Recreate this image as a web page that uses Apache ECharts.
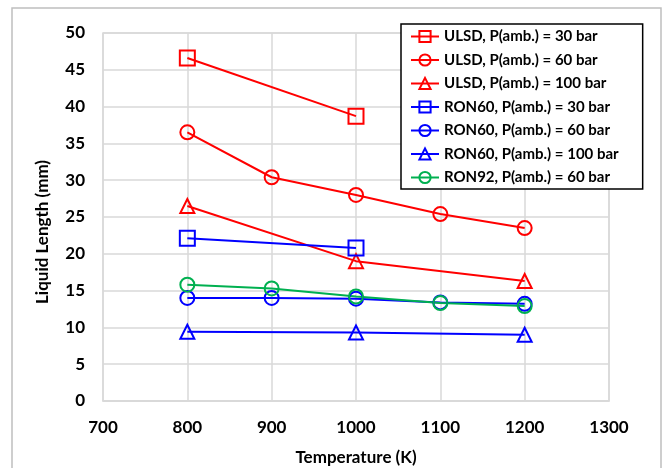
<!DOCTYPE html>
<html><head><meta charset="utf-8">
<script src="https://cdn.jsdelivr.net/npm/echarts@6/dist/echarts.min.js"></script>
<style>html,body{margin:0;padding:0;background:#fff}#c{width:664px;height:468px}</style>
</head><body><div id="c"></div>
<script>
const xTicks = [700, 800, 900, 1000, 1100, 1200, 1300];
const seriesNames = [
  'ULSD, P(amb.) = 30 bar', 'ULSD, P(amb.) = 60 bar', 'ULSD, P(amb.) = 100 bar',
  'RON60, P(amb.) = 30 bar', 'RON60, P(amb.) = 60 bar', 'RON60, P(amb.) = 100 bar',
  'RON92, P(amb.) = 60 bar'
];
const ulsd30 = [[800, 46.6], [1000, 38.7]];
const ulsd60 = [[800, 36.5], [900, 30.4], [1000, 28.0], [1100, 25.4], [1200, 23.5]];
const ulsd100 = [[800, 26.5], [1000, 19.0], [1200, 16.3]];
const ron60_30 = [[800, 22.1], [1000, 20.8]];
const ron60_60 = [[800, 14.0], [900, 14.0], [1000, 13.9], [1100, 13.4], [1200, 13.2]];
const ron60_100 = [[800, 9.4], [1000, 9.3], [1200, 9.0]];
const ron92_60 = [[800, 15.8], [900, 15.3], [1000, 14.2], [1100, 13.3], [1200, 12.9]];

const datasets = [ulsd30, ulsd60, ulsd100, ron60_30, ron60_60, ron60_100, ron92_60];
const colors = ['#ff0000', '#ff0000', '#ff0000', '#0000ff', '#0000ff', '#0000ff', '#00b050'];
const symbols = ['rect', 'circle', 'triangle', 'rect', 'circle', 'triangle', 'circle'];
const sizes = [15, 14, 14, 15, 14, 14, 14];

const FONT = 'Lato';
const chart = echarts.init(document.getElementById('c'), null, {renderer: 'canvas'});
chart.setOption({
  backgroundColor: '#fff',
  animation: false,
  graphic: [{
    type: 'rect', shape: {x: 12, y: 8, width: 649, height: 470},
    style: {fill: 'none', stroke: '#bfbfbf', lineWidth: 1.5}, z: -1
  }],
  grid: {left: 103, right: 55, top: 33, bottom: 67, show: true, borderColor: '#d9d9d9', borderWidth: 1.5,
    containLabel: false, outerBoundsMode: 'none'},
  legend: {
    orient: 'vertical', left: 401, top: 24,
    padding: [5, 24, 4, 9], itemGap: 8.5, itemWidth: 28, itemHeight: 14,
    backgroundColor: '#fff', borderColor: '#000', borderWidth: 1.5,
    textStyle: {fontFamily: FONT, fontWeight: 'bold', fontSize: 15, color: '#000', lineHeight: 15},
    data: seriesNames
  },
  xAxis: {
    type: 'value', min: 700, max: 1300, interval: 100,
    name: 'Temperature (K)', nameLocation: 'middle', nameGap: 48,
    nameTextStyle: {fontFamily: FONT, fontWeight: 'bold', fontSize: 17, color: '#000'},
    axisLine: {show: true, lineStyle: {color: '#d9d9d9', width: 1.5}},
    axisTick: {show: false},
    axisLabel: {fontFamily: FONT, fontWeight: 'bold', fontSize: 17, color: '#000', margin: 18,
      formatter: v => xTicks.includes(v) ? String(v) : ''},
    splitLine: {show: true, lineStyle: {color: '#d9d9d9', width: 1.5}}
  },
  yAxis: {
    type: 'value', min: 0, max: 50, interval: 5,
    name: 'Liquid Length (mm)', nameLocation: 'middle', nameGap: 52,
    nameTextStyle: {fontFamily: FONT, fontWeight: 'bold', fontSize: 17, color: '#000', padding: [0, 30, 0, 0]},
    axisLine: {show: false}, axisTick: {show: false},
    axisLabel: {fontFamily: FONT, fontWeight: 'bold', fontSize: 17, color: '#000', margin: 18},
    splitLine: {show: true, lineStyle: {color: '#d9d9d9', width: 1.5}}
  },
  series: datasets.map((d, i) => ({
    name: seriesNames[i], type: 'line', data: d,
    symbol: symbols[i], symbolSize: sizes[i], showSymbol: true,
    lineStyle: {color: colors[i], width: 2},
    itemStyle: {color: 'rgba(255,255,255,0)', borderColor: colors[i], borderWidth: 2},
    emphasis: {disabled: true}
  }))
});
</script></body></html>
